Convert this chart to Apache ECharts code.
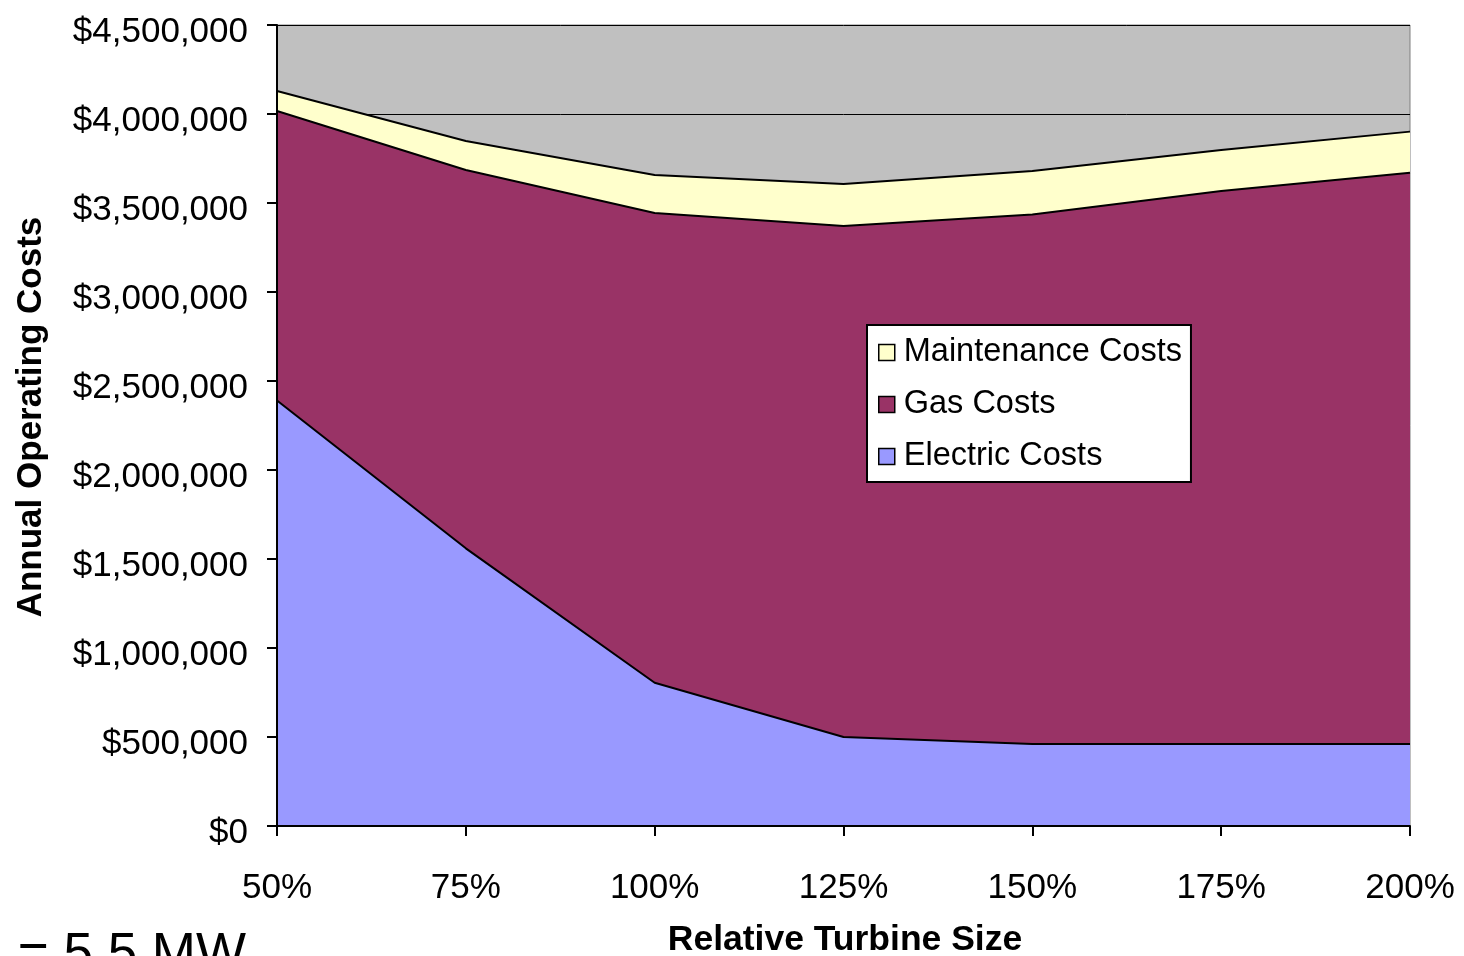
<!DOCTYPE html>
<html>
<head>
<meta charset="utf-8">
<script src="https://cdn.jsdelivr.net/npm/echarts@6/dist/echarts.min.js"></script>
<style>
html,body{margin:0;padding:0;background:#fff;}
#chart{width:1464px;height:956px;}
</style>
</head>
<body>
<div id="chart"></div>
<script>
const categories = ['50%', '75%', '100%', '125%', '150%', '175%', '200%'];
const electricCosts = [2390000, 1560000, 805000, 500000, 461000, 461000, 461000];
const gasCosts = [1627000, 2125000, 2639000, 2871000, 2975000, 3106000, 3209000];
const maintenanceCosts = [112000, 163000, 213000, 236000, 244000, 231000, 231000];
const seriesNames = ['Electric Costs', 'Gas Costs', 'Maintenance Costs'];
const legendOrder = ['Maintenance Costs', 'Gas Costs', 'Electric Costs'];
const yTitle = 'Annual Operating Costs';
const xTitle = 'Relative Turbine Size';
const noteText = '= 5.5 MW';

const FONT = '"Liberation Sans", Arial, Helvetica, sans-serif';
const fills = {'Electric Costs': '#9999FF', 'Gas Costs': '#993366', 'Maintenance Costs': '#FFFFCC'};
const values = {'Electric Costs': electricCosts, 'Gas Costs': gasCosts, 'Maintenance Costs': maintenanceCosts};

const chart = echarts.init(document.getElementById('chart'), null, {renderer: 'canvas'});

const series = seriesNames.map(name => ({
  name: name,
  type: 'line',
  stack: 'total',
  xAxisIndex: 0,
  yAxisIndex: 0,
  data: values[name],
  symbol: 'none',
  smooth: false,
  lineStyle: {color: '#000', width: 2},
  itemStyle: {color: fills[name]},
  areaStyle: {color: fills[name], opacity: 1},
  emphasis: {disabled: true},
  silent: true
}));

const yBase = {type: 'value', min: 0, max: 4500000, interval: 500000};

chart.setOption({
  animation: false,
  grid: {
    left: 277, right: 54, top: 25, bottom: 130,
    show: true, backgroundColor: '#C0C0C0', borderColor: '#808080', borderWidth: 1
  },
  legend: {
    data: legendOrder.map(n => ({name: n, icon: 'rect'})),
    orient: 'vertical',
    left: 867, top: 325,
    padding: [11, 9, 9, 11],
    itemWidth: 16, itemHeight: 16,
    itemGap: 19,
    backgroundColor: '#ffffff',
    borderColor: '#000', borderWidth: 2,
    itemStyle: {borderColor: '#000', borderWidth: 1.5},
    textStyle: {fontFamily: FONT, fontSize: 32.5, color: '#000', padding: [0, 0, 0, 4]},
    selectedMode: false,
    z: 20
  },
  xAxis: [{
    type: 'category',
    data: categories,
    boundaryGap: false,
    axisLine: {lineStyle: {color: '#000', width: 2}},
    axisTick: {show: true, length: 10, lineStyle: {color: '#000', width: 2}},
    axisLabel: {fontFamily: FONT, fontSize: 35, color: '#000', margin: 45, interval: 0},
    splitLine: {show: false},
    z: 10
  }],
  yAxis: [
    Object.assign({}, yBase, {
      axisLine: {show: false},
      axisTick: {show: false},
      axisLabel: {show: false},
      splitLine: {show: true, lineStyle: {color: '#000', width: 1}},
      z: 0
    }),
    Object.assign({}, yBase, {
      position: 'left',
      axisLine: {show: true, onZero: false, lineStyle: {color: '#000', width: 2}},
      axisTick: {show: true, length: 10, lineStyle: {color: '#000', width: 2}},
      axisLabel: {
        fontFamily: FONT, fontSize: 35, color: '#000', margin: 29,
        verticalAlign: 'top', lineHeight: 14,
        formatter: v => '$' + v.toLocaleString('en-US')
      },
      splitLine: {show: false},
      z: 10
    })
  ],
  graphic: [
    {
      type: 'text', x: 31, y: 417, rotation: Math.PI / 2,
      style: {text: yTitle, font: 'bold 35px ' + FONT, fill: '#000', textAlign: 'center', textVerticalAlign: 'middle'}
    },
    {
      type: 'text', x: 845, y: 940,
      style: {text: xTitle, font: 'bold 35.5px ' + FONT, fill: '#000', textAlign: 'center', textVerticalAlign: 'middle'}
    },
    {
      type: 'text', x: 246, y: 929,
      style: {text: noteText, font: '53px ' + FONT, fill: '#000', textAlign: 'right', textVerticalAlign: 'top'}
    }
  ],
  series: series
});
</script>
</body>
</html>
